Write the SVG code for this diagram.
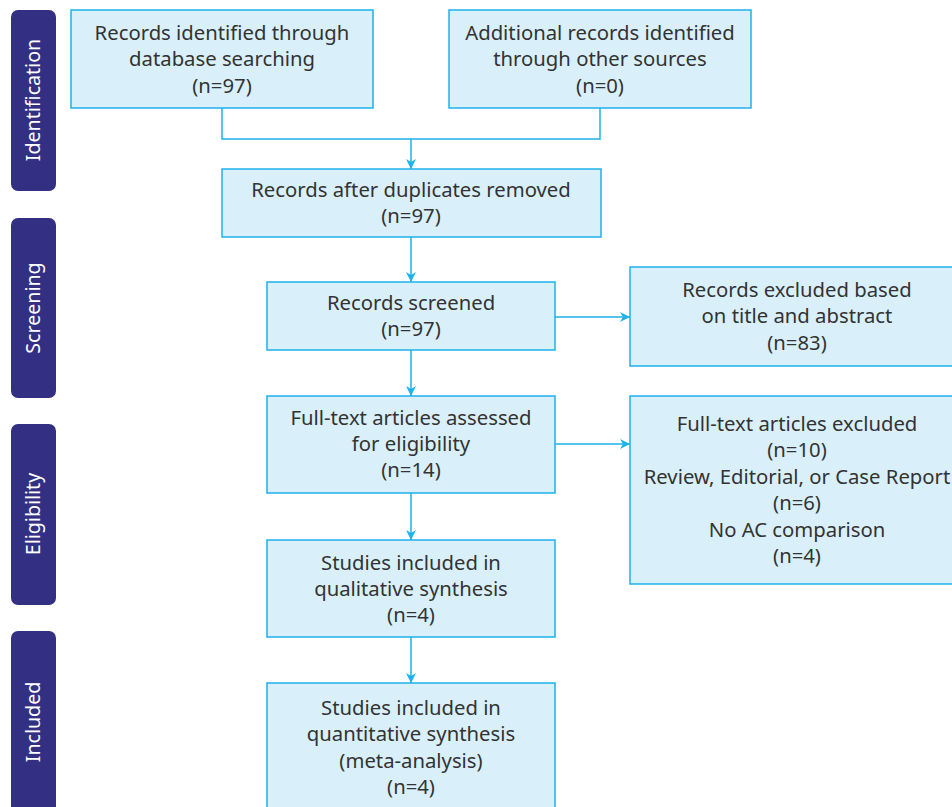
<svg xmlns="http://www.w3.org/2000/svg" width="952" height="807" viewBox="0 0 952 807">
<defs>
<style>
.box{fill:#d9f0fb;stroke:#1fb1ea;stroke-width:1.5}
.t{font-family:"Noto Sans","Liberation Sans",sans-serif;font-size:20.3px;fill:#333;text-anchor:middle}
.side{fill:#333084}
.st{font-family:"Noto Sans","Liberation Sans",sans-serif;font-size:19.6px;fill:#fff;text-anchor:middle}
.ln{fill:none;stroke:#1fb1ea;stroke-width:1.5}
</style>
<marker id="ah" viewBox="0 0 10 10" refX="10" refY="5" markerWidth="10" markerHeight="10" markerUnits="userSpaceOnUse" orient="auto">
<path d="M0,0 L10,5 L0,10 L3,5 Z" fill="#1fb1ea"/>
</marker>
</defs>
<rect width="952" height="807" fill="#fff"/>
<g id="phase-identification"><rect class="side" x="11" y="10" width="45" height="181" rx="7"/><text class="st" transform="translate(40,100) rotate(-90)">Identification</text></g>
<g id="phase-screening"><rect class="side" x="11" y="218" width="45" height="180" rx="7"/><text class="st" transform="translate(40,308) rotate(-90)">Screening</text></g>
<g id="phase-eligibility"><rect class="side" x="11" y="424" width="45" height="181" rx="7"/><text class="st" transform="translate(40,514) rotate(-90)">Eligibility</text></g>
<g id="phase-included"><rect class="side" x="11" y="631" width="45" height="190" rx="7"/><text class="st" transform="translate(40,722) rotate(-90)">Included</text></g>

<g id="connectors">
<path class="ln" d="M222,108 V139 H600 V108"/>
<path class="ln" d="M411,139 V169" marker-end="url(#ah)"/>
<path class="ln" d="M411,237 V282" marker-end="url(#ah)"/>
<path class="ln" d="M411,350 V396" marker-end="url(#ah)"/>
<path class="ln" d="M411,493 V540" marker-end="url(#ah)"/>
<path class="ln" d="M411,637 V683" marker-end="url(#ah)"/>
<path class="ln" d="M555,317 H630" marker-end="url(#ah)"/>
<path class="ln" d="M555,444 H630" marker-end="url(#ah)"/>
</g>

<g id="n1"><rect class="box" x="71" y="10" width="302" height="98"/>
<text class="t" x="222" y="40">Records identified through</text>
<text class="t" x="222" y="66">database searching</text>
<text class="t" x="222" y="93">(n=97)</text></g>
<g id="n2"><rect class="box" x="449" y="10" width="302" height="98"/>
<text class="t" x="600" y="40">Additional records identified</text>
<text class="t" x="600" y="66">through other sources</text>
<text class="t" x="600" y="93">(n=0)</text></g>
<g id="n3"><rect class="box" x="222" y="169" width="379" height="68"/>
<text class="t" x="411" y="197">Records after duplicates removed</text>
<text class="t" x="411" y="223">(n=97)</text></g>
<g id="n4"><rect class="box" x="267" y="282" width="288" height="68"/>
<text class="t" x="411" y="310">Records screened</text>
<text class="t" x="411" y="336">(n=97)</text></g>
<g id="n5"><rect class="box" x="630" y="267" width="340" height="99"/>
<text class="t" x="797" y="297">Records excluded based</text>
<text class="t" x="797" y="323">on title and abstract</text>
<text class="t" x="797" y="350">(n=83)</text></g>
<g id="n6"><rect class="box" x="267" y="396" width="288" height="97"/>
<text class="t" x="411" y="425">Full-text articles assessed</text>
<text class="t" x="411" y="451">for eligibility</text>
<text class="t" x="411" y="477">(n=14)</text></g>
<g id="n7"><rect class="box" x="630" y="396" width="340" height="188"/>
<text class="t" x="797" y="431">Full-text articles excluded</text>
<text class="t" x="797" y="457">(n=10)</text>
<text class="t" x="797" y="484">Review, Editorial, or Case Report</text>
<text class="t" x="797" y="510">(n=6)</text>
<text class="t" x="797" y="537">No AC comparison</text>
<text class="t" x="797" y="563">(n=4)</text></g>
<g id="n8"><rect class="box" x="267" y="540" width="288" height="97"/>
<text class="t" x="411" y="570">Studies included in</text>
<text class="t" x="411" y="596">qualitative synthesis</text>
<text class="t" x="411" y="622">(n=4)</text></g>
<g id="n9"><rect class="box" x="267" y="683" width="288" height="140"/>
<text class="t" x="411" y="715">Studies included in</text>
<text class="t" x="411" y="741">quantitative synthesis</text>
<text class="t" x="411" y="768">(meta-analysis)</text>
<text class="t" x="411" y="794">(n=4)</text></g>
</svg>
